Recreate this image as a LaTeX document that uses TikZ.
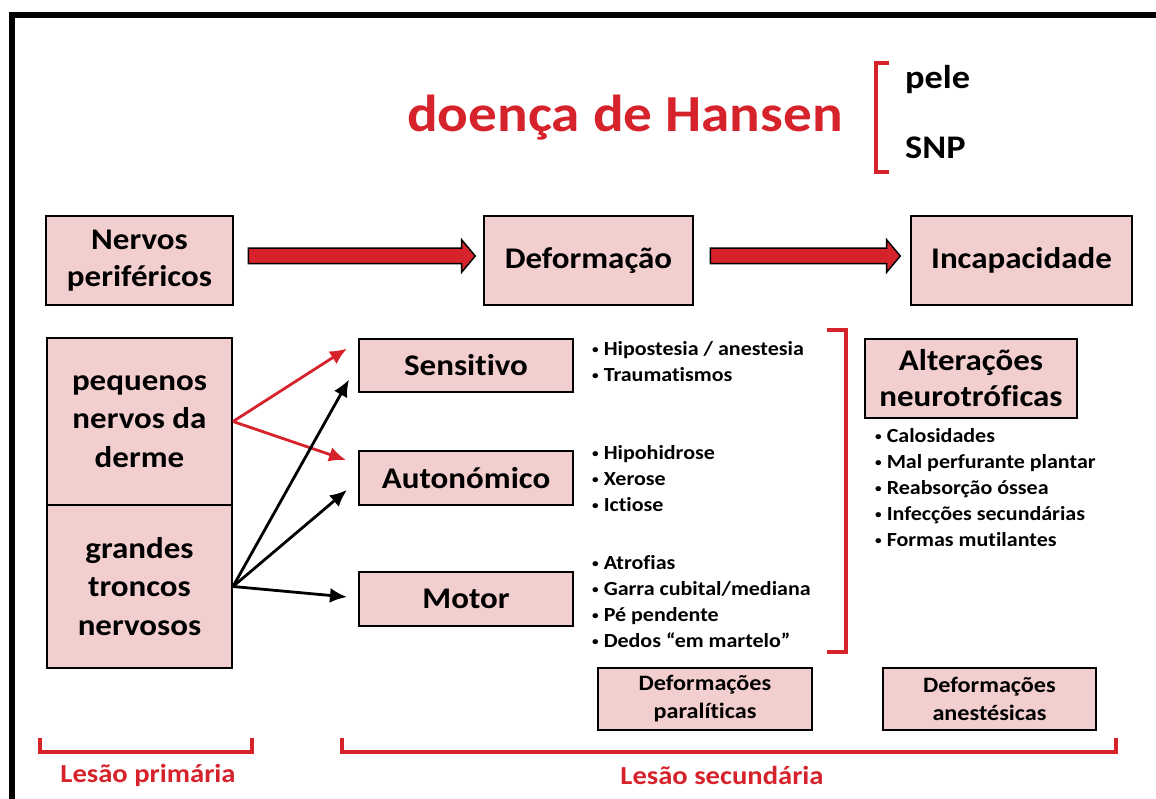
\documentclass[tikz,border=0pt]{standalone}
\usepackage{fontspec}
\setmainfont{Carlito}[FakeStretch=1.1, Ligatures=CommonOff]
\usetikzlibrary{
    calc,
    arrows.meta,
    shapes.arrows
}
\definecolor{hanred}{RGB}{214,35,43}
\definecolor{boxpink}{RGB}{242,206,206}
\newcommand{\fs}[2]{\fontsize{#1}{#2}\selectfont\bfseries}
\newcommand{\bul}{\raisebox{0.12em}{\scalebox{0.6}{\textbullet}}\ }
\tikzset{
    box/.style={draw=black, line width=2pt, fill=boxpink, align=center, inner sep=0pt, font=\fs{30}{37}},
    blist/.style={anchor=west, align=left, inner sep=0pt, font=\fs{20}{26}},
    lnk/.style={line width=2.8pt, -{Latex[length=17pt,width=15pt]}},
    bigarrow/.style={single arrow, draw=black, line width=1.5pt, fill=hanred, inner sep=7pt,
        single arrow head extend=8.5pt, single arrow tip angle=100},
    brk/.style={draw=hanred, line width=4pt},
    lesao/.style={text=hanred, inner sep=0pt, font=\fs{26}{30}}
}

\begin{document}
\begin{tikzpicture}[x=1pt,y=-1pt]
        \useasboundingbox (0,0) rectangle (1156,799);
        \draw[line width=6pt] (12,799) -- (12,15.5) -- (1156,15.5);

        \draw (625,118) node[text=hanred, font=\fs{52}{60}](title){doença de Hansen};
        \draw (905,80) node[anchor=west, inner sep=0pt, font=\fs{33}{40}](pele){pele};
        \draw (905,148) node[anchor=west, inner sep=0pt, font=\fs{33}{40}](snp){SNP};
        \draw[brk] (889,63) -- (876,63) -- (876,172) -- (889,172);

        \draw (139.5,260.5) node[box, minimum width=187pt, minimum height=89pt](nerv){Nervos\\periféricos};
        \draw (588.5,260.5) node[box, minimum width=209pt, minimum height=89pt](def){Deformação};
        \draw (1021.5,260.5) node[box, minimum width=221pt, minimum height=89pt](inc){Incapacidade};
        \draw ($(nerv.east)!0.5!(def.west)+(0,-4.5)$) node[bigarrow, minimum height=227pt](a1){};
        \draw ($(def.east)!0.5!(inc.west)+(0,-4.5)$) node[bigarrow, minimum height=190pt](a2){};

        \draw (139.5,421.5) node[box, font=\fs{30}{38.5}, minimum width=185pt, minimum height=167pt](peq){pequenos\\nervos da\\derme};
        \draw (139.5,586.5) node[box, font=\fs{30}{38.5}, minimum width=185pt, minimum height=163pt](gra){grandes\\troncos\\nervosos};

        \draw (466,365.5) node[box, minimum width=214pt, minimum height=53pt](sens){Sensitivo};
        \draw (466,478) node[box, minimum width=214pt, minimum height=54pt](aut){Autonómico};
        \draw (466,599) node[box, minimum width=214pt, minimum height=54pt](mot){Motor};

        \draw[lnk, draw=hanred, fill=hanred] (peq.east) -- ([xshift=-11pt,yshift=17pt]sens.west);
        \draw[lnk, draw=hanred, fill=hanred] (peq.east) -- ([xshift=-12pt,yshift=18pt]aut.west);
        \draw[lnk] (gra.east) -- ([xshift=-9pt,yshift=-14pt]sens.west);
        \draw[lnk] (gra.east) -- ([xshift=-11pt,yshift=-12pt]aut.west);
        \draw[lnk] (gra.east) -- ([xshift=-11pt,yshift=2pt]mot.west);

        \draw (592,362) node[blist](lsens){\bul Hipostesia / anestesia\\\bul Traumatismos};
        \draw (592,478.5) node[blist](laut){\bul Hipohidrose\\\bul Xerose\\\bul Ictiose};
        \draw (592,602) node[blist](lmot){\bul Atrofias\\\bul Garra cubital/mediana\\\bul Pé pendente\\\bul Dedos “em martelo”};
        \draw[brk] (827,330) -- (846,330) -- (846,652) -- (827,652);

        \draw (971,378.5) node[box, font=\fs{30}{36}, minimum width=212pt, minimum height=79pt](alt){Alterações\\neurotróficas};
        \draw (875,487.5) node[blist](lalt){\bul Calosidades\\\bul Mal perfurante plantar\\\bul Reabsorção óssea\\\bul Infecções secundárias\\\bul Formas mutilantes};

        \draw (705,699) node[box, font=\fs{22}{28}, minimum width=214pt, minimum height=62pt](dpar){Deformações\\paralíticas};
        \draw (989.5,699) node[box, font=\fs{22}{28}, minimum width=213pt, minimum height=62pt](dane){Deformações\\anestésicas};

        \draw[brk] (40,738) -- (40,752) -- (252,752) -- (252,738);
        \draw[brk] (342,738) -- (342,752) -- (1116,752) -- (1116,738);
        \draw (148,775) node[lesao](lprim){Lesão primária};
        \draw (722,775) node[lesao](lsec){Lesão secundária};
    \end{tikzpicture}
\end{document}
